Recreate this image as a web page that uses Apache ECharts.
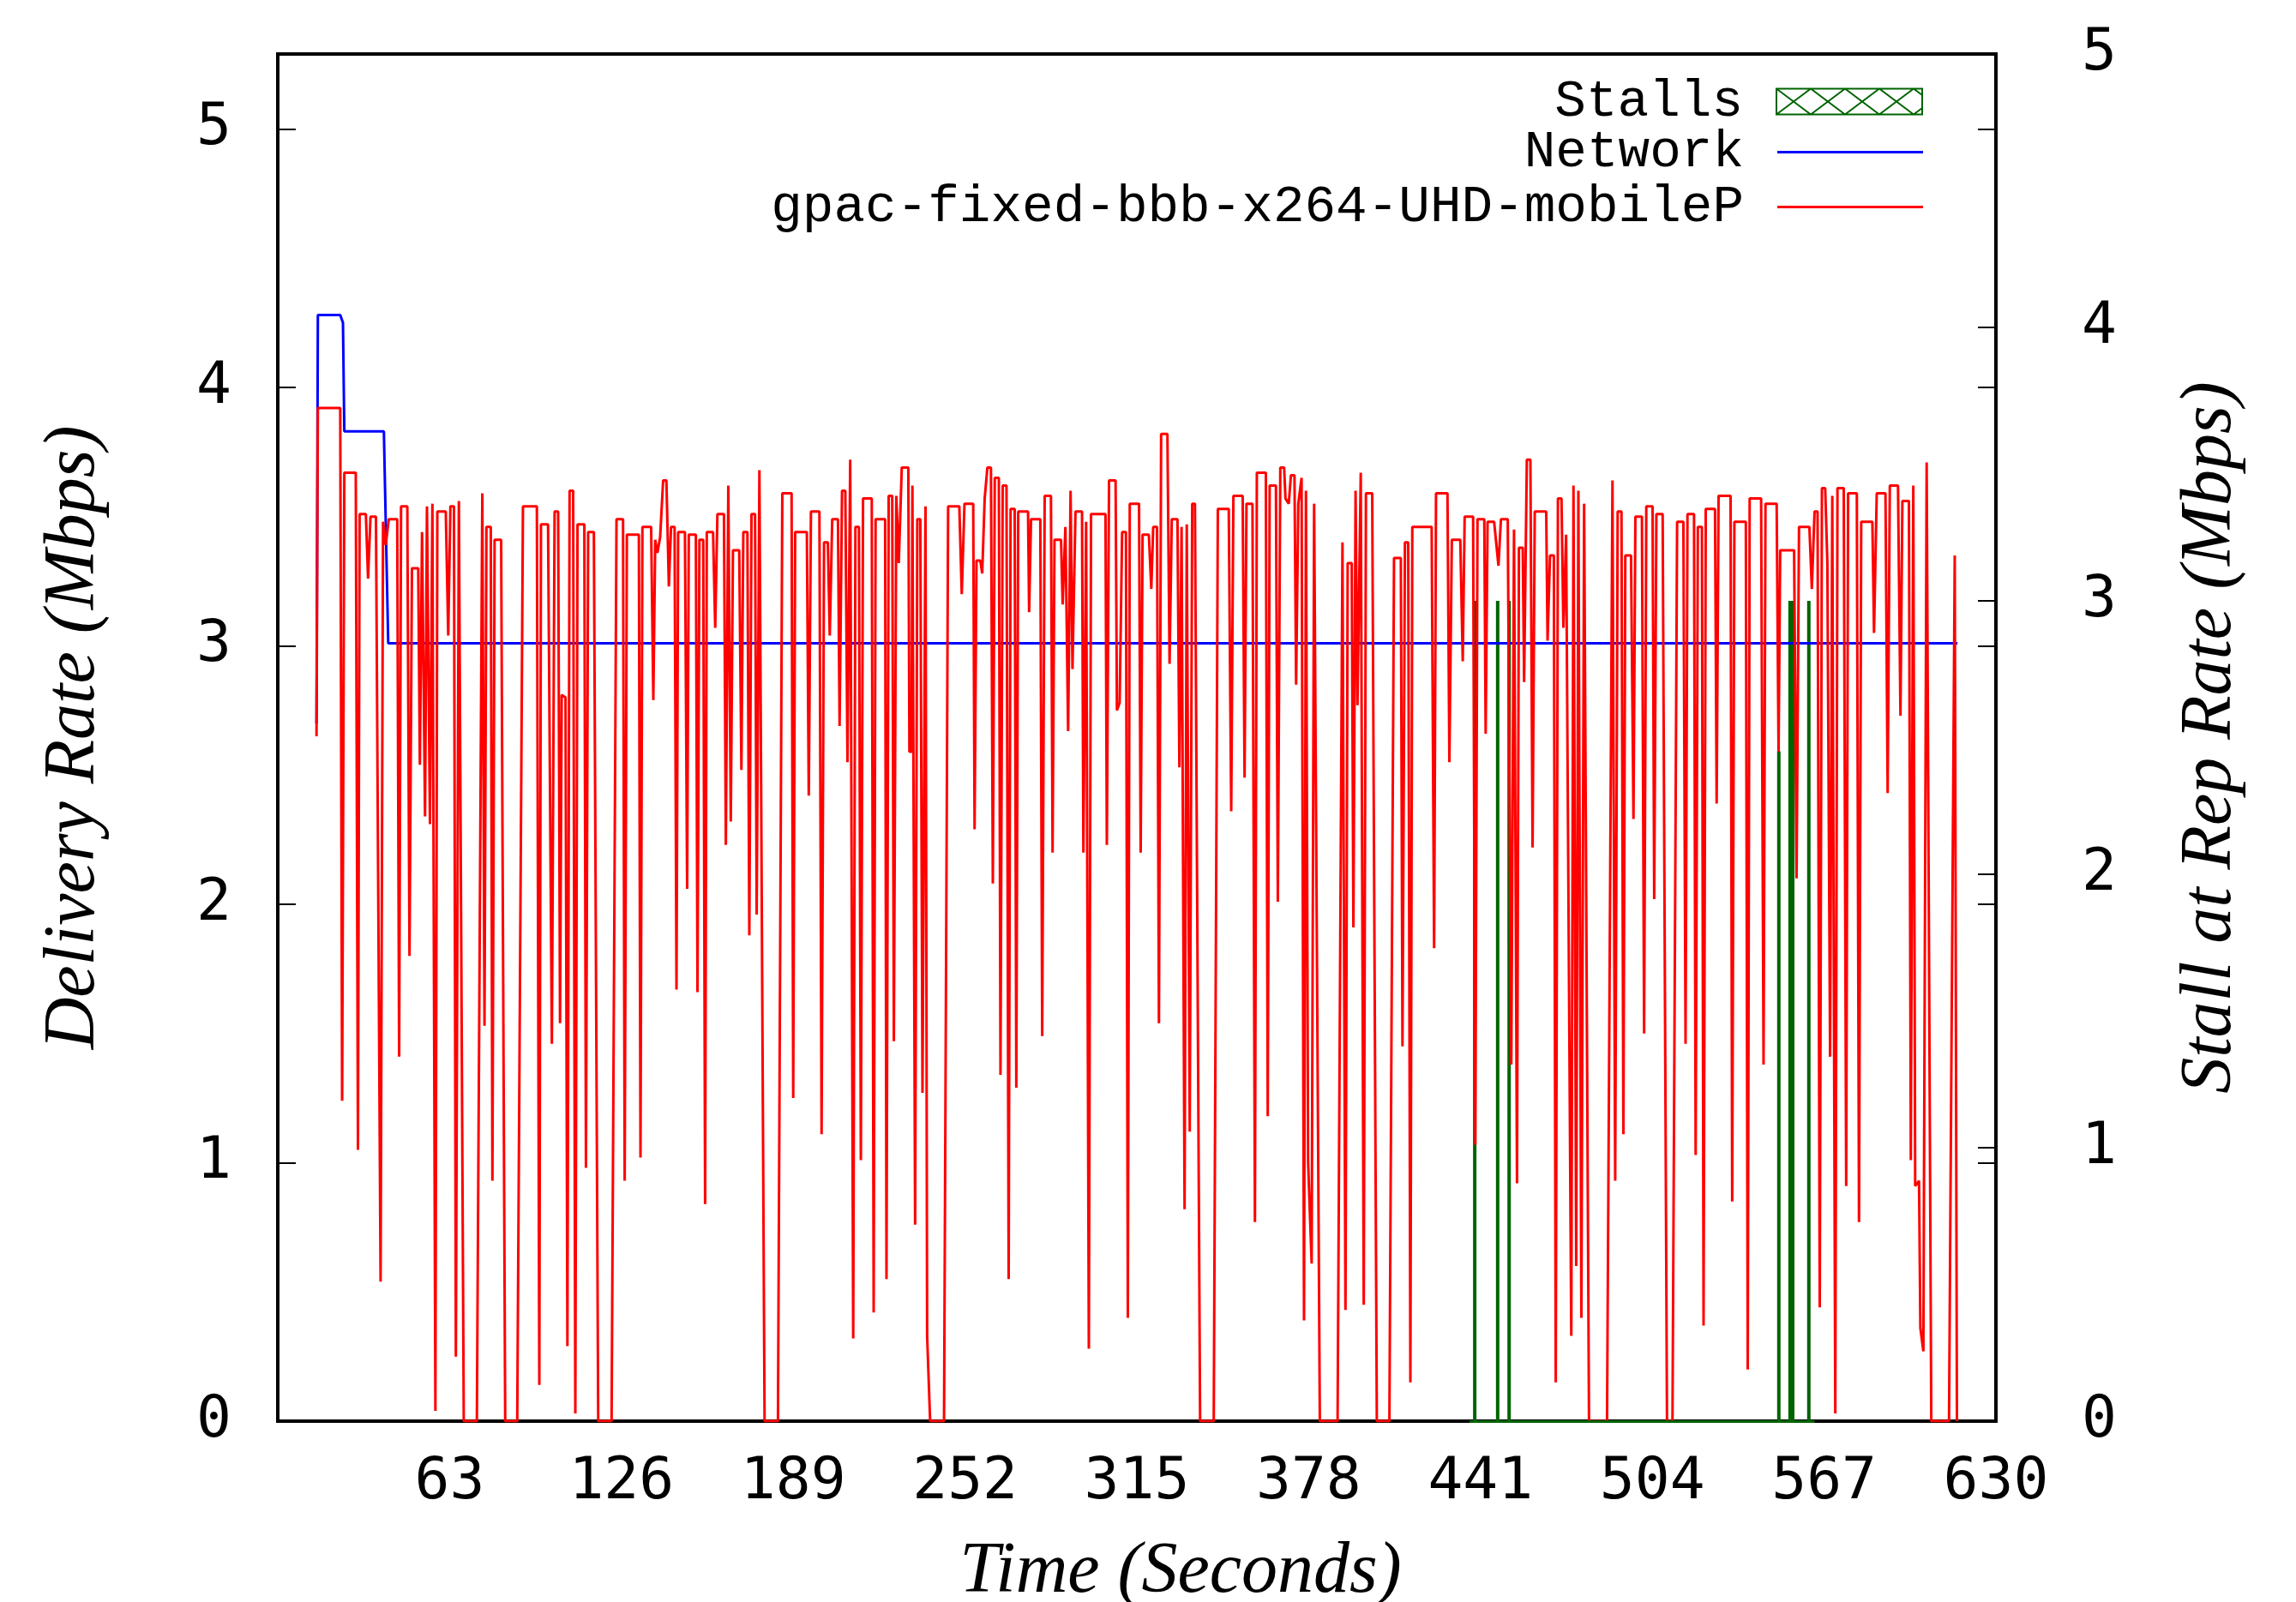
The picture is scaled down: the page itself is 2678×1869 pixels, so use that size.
<!DOCTYPE html>
<html>
<head>
<meta charset="utf-8">
<title>Delivery Rate</title>
<script src="https://cdn.jsdelivr.net/npm/echarts@6/dist/echarts.min.js"></script>
<style>
  html, body { margin: 0; padding: 0; background: #fff; }
  #chart { width: 2678px; height: 1869px; }
</style>
</head>
<body>
<div id="chart"></div>
<script>
// delivery rate of the player, [seconds, Mbps]
var deliveryRate = [
  [14.2, 2.65], [14.7, 3.92], [22.9, 3.92], [23.6, 1.24], [24.4, 3.67], [28.6, 3.67], [29.4, 1.05], [30.0, 3.51],
  [32.3, 3.51], [33.1, 3.26], [34.0, 3.50], [36.0, 3.50], [37.7, 0.54], [38.6, 3.48], [39.6, 3.39], [40.7, 3.49],
  [43.8, 3.49], [44.5, 1.41], [45.2, 3.54], [47.5, 3.54], [48.3, 1.80], [49.2, 3.30], [51.5, 3.30], [52.1, 2.54],
  [52.9, 3.44], [54.0, 2.34], [54.7, 3.54], [55.8, 2.31], [56.7, 3.55], [57.8, 0.04], [58.5, 3.52], [61.6, 3.52],
  [62.5, 3.04], [63.3, 3.54], [64.6, 3.54], [65.3, 0.25], [66.4, 3.56], [68.2, 0], [73.0, 0], [75.0, 3.59],
  [75.8, 1.53], [76.5, 3.46], [78.1, 3.46], [78.7, 0.93], [79.5, 3.41], [81.9, 3.41], [83.4, 0], [87.8, 0],
  [89.9, 3.54], [95.0, 3.54], [95.9, 0.14], [96.5, 3.47], [99.1, 3.47], [100.5, 1.46], [101.5, 3.52], [102.8, 3.52],
  [103.5, 1.54], [104.1, 2.81], [105.5, 2.80], [106.2, 0.29], [107.0, 3.60], [108.3, 3.60], [109.1, 0.03], [109.9, 3.47],
  [112.4, 3.47], [113.0, 0.98], [113.8, 3.44], [115.9, 3.44], [117.5, 0], [122.4, 0], [124.2, 3.49], [126.6, 3.49],
  [127.2, 0.93], [128.0, 3.43], [132.4, 3.43], [133.0, 1.02], [133.7, 3.46], [136.9, 3.46], [137.7, 2.79], [138.4, 3.41],
  [139.2, 3.36], [140.2, 3.42], [141.3, 3.64], [142.5, 3.64], [143.4, 3.23], [144.2, 3.46], [145.5, 3.46], [146.2, 1.67],
  [146.8, 3.44], [149.3, 3.44], [150.1, 2.06], [150.7, 3.43], [153.3, 3.43], [153.9, 1.66], [154.6, 3.41], [156.0, 3.41],
  [156.7, 0.84], [157.3, 3.44], [159.6, 3.44], [160.4, 3.07], [161.2, 3.51], [163.6, 3.51], [164.3, 2.23], [165.2, 3.62],
  [166.1, 2.32], [166.9, 3.37], [169.2, 3.37], [170.0, 2.52], [170.7, 3.44], [172.2, 3.44], [172.9, 1.88], [173.7, 3.51],
  [175.0, 3.51], [175.6, 1.96], [176.6, 3.68], [178.5, 0], [183.4, 0], [185.0, 3.59], [188.4, 3.59], [189.0, 1.25],
  [189.7, 3.44], [194.0, 3.44], [194.7, 2.42], [195.5, 3.52], [198.6, 3.52], [199.4, 1.11], [200.3, 3.40], [201.7, 3.40],
  [202.4, 3.04], [203.3, 3.49], [205.4, 3.49], [206.0, 2.69], [206.9, 3.60], [208.1, 3.60], [208.9, 2.55], [209.9, 3.72],
  [211.0, 0.32], [211.8, 3.46], [213.1, 3.46], [213.8, 1.01], [214.6, 3.57], [217.8, 3.57], [218.5, 0.42], [219.2, 3.49],
  [222.7, 3.49], [223.2, 0.55], [224.0, 3.58], [225.3, 3.58], [225.9, 1.47], [226.8, 3.58], [227.7, 3.32], [228.8, 3.69],
  [231.2, 3.69], [231.6, 2.59], [232.4, 2.59], [232.7, 3.62], [233.7, 0.76], [234.5, 3.49], [235.6, 3.49], [236.4, 1.27],
  [237.5, 3.54], [238.1, 0.33], [239.2, 0], [244.3, 0], [245.8, 3.54], [249.9, 3.54], [250.8, 3.20], [251.8, 3.55],
  [255.0, 3.55], [255.5, 2.29], [256.2, 3.33], [257.6, 3.33], [258.3, 3.28], [259.2, 3.57], [260.2, 3.69], [261.5, 3.69],
  [262.2, 2.08], [262.9, 3.65], [264.4, 3.65], [265.0, 1.34], [265.8, 3.62], [267.2, 3.62], [268.0, 0.55], [268.7, 3.53],
  [270.2, 3.53], [270.8, 1.29], [271.5, 3.52], [275.1, 3.52], [275.5, 3.13], [276.2, 3.49], [279.6, 3.49], [280.3, 1.49],
  [281.2, 3.58], [283.5, 3.58], [284.1, 2.20], [284.8, 3.41], [287.2, 3.41], [287.8, 3.16], [288.8, 3.46], [289.8, 2.67],
  [290.7, 3.60], [291.4, 2.91], [292.5, 3.52], [294.9, 3.52], [295.4, 2.20], [296.4, 3.48], [297.4, 0.28], [298.2, 3.51],
  [303.5, 3.51], [304.0, 2.23], [304.8, 3.64], [307.2, 3.64], [307.7, 2.75], [308.7, 2.78], [309.6, 3.44], [311.0, 3.44],
  [311.7, 0.40], [312.4, 3.55], [315.8, 3.55], [316.4, 2.20], [317.1, 3.43], [319.4, 3.43], [320.3, 3.22], [321.0, 3.46],
  [322.4, 3.46], [323.1, 1.54], [323.9, 3.82], [326.2, 3.82], [327.0, 2.93], [327.8, 3.49], [329.9, 3.49], [330.6, 2.53],
  [331.4, 3.46], [332.5, 0.82], [333.3, 3.47], [334.4, 1.12], [335.3, 3.55], [336.3, 3.55], [338.2, 0], [343.2, 0],
  [344.7, 3.53], [348.7, 3.53], [349.6, 2.36], [350.4, 3.58], [353.8, 3.58], [354.5, 2.49], [355.2, 3.55], [357.4, 3.55],
  [358.3, 0.77], [359.0, 3.67], [362.3, 3.67], [363.0, 1.18], [363.7, 3.62], [366.0, 3.62], [366.7, 2.01], [367.6, 3.69],
  [369.0, 3.69], [369.5, 3.57], [370.7, 3.55], [371.5, 3.66], [372.8, 3.66], [373.4, 2.85], [374.2, 3.55], [375.4, 3.65],
  [376.3, 0.39], [377.0, 3.60], [377.8, 1.00], [379.1, 0.61], [380.0, 3.55], [382.1, 0], [388.6, 0], [390.4, 3.40],
  [391.5, 0.43], [392.3, 3.32], [393.8, 3.32], [394.4, 1.91], [395.2, 3.60], [395.9, 2.77], [397.1, 3.67], [398.2, 0.45],
  [399.0, 3.59], [401.3, 3.59], [403.0, 0], [407.6, 0], [409.3, 3.34], [411.8, 3.34], [412.4, 1.45], [413.3, 3.40],
  [414.5, 3.40], [415.3, 0.15], [416.0, 3.46], [423.1, 3.46], [424.0, 1.83], [424.7, 3.59], [428.9, 3.59], [429.6, 2.55],
  [430.5, 3.41], [433.6, 3.41], [434.5, 2.94], [435.2, 3.50], [438.3, 3.50], [439.1, 1.07], [439.9, 3.49], [442.4, 3.49],
  [442.9, 2.66], [443.6, 3.48], [446.0, 3.48], [447.6, 3.31], [448.5, 3.49], [451.0, 3.49], [452.3, 1.38], [453.3, 3.45],
  [454.4, 0.92], [455.1, 3.38], [456.5, 3.38], [457.0, 2.86], [458.0, 3.72], [459.3, 3.72], [460.1, 2.22], [460.9, 3.52],
  [465.1, 3.52], [465.6, 3.02], [466.5, 3.35], [467.9, 3.35], [468.6, 0.15], [469.4, 3.57], [470.7, 3.57], [471.4, 3.07],
  [472.4, 3.43], [474.3, 0.33], [475.1, 3.62], [476.1, 0.60], [476.9, 3.60], [478.0, 0.40], [479.0, 3.55], [480.8, 0],
  [487.4, 0], [489.4, 3.64], [490.4, 0.93], [491.3, 3.52], [492.7, 3.52], [493.4, 1.11], [494.1, 3.35], [496.2, 3.35],
  [497.1, 2.33], [497.8, 3.50], [500.2, 3.50], [501.0, 1.50], [501.8, 3.54], [504.1, 3.54], [504.7, 2.02], [505.5, 3.51],
  [507.8, 3.51], [509.4, 0], [511.4, 0], [513.1, 3.48], [515.4, 3.48], [516.2, 1.46], [516.9, 3.51], [519.3, 3.51],
  [519.9, 1.03], [520.7, 3.46], [522.2, 3.46], [522.8, 0.37], [523.6, 3.53], [527.0, 3.53], [527.6, 2.39], [528.3, 3.58],
  [532.7, 3.58], [533.3, 0.85], [534.1, 3.48], [538.3, 3.48], [539.0, 0.20], [539.7, 3.57], [543.9, 3.57], [544.8, 1.38],
  [545.5, 3.55], [549.6, 3.55], [550.3, 2.59], [550.9, 3.37], [556.0, 3.37], [556.9, 2.10], [557.8, 3.46], [561.6, 3.46],
  [562.5, 3.22], [563.5, 3.52], [564.6, 3.52], [565.4, 0.44], [566.2, 3.61], [567.4, 3.61], [568.2, 3.32], [569.2, 1.41],
  [570.0, 3.58], [571.1, 0.03], [571.9, 3.61], [574.2, 3.61], [575.1, 0.91], [575.8, 3.59], [579.0, 3.59], [579.8, 0.77],
  [580.6, 3.48], [584.7, 3.48], [585.3, 3.05], [586.3, 3.59], [589.5, 3.59], [590.3, 2.43], [591.1, 3.62], [594.1, 3.62],
  [595.0, 2.73], [595.7, 3.56], [598.1, 3.56], [598.8, 1.01], [599.7, 3.62], [600.4, 0.91], [601.8, 0.93], [602.3, 0.36],
  [603.4, 0.27], [604.6, 3.71], [606.3, 0], [612.8, 0], [614.9, 3.35], [615.7, 0]
]

// network capacity, [seconds, Mbps]
var networkRate = [
  [14.2, 2.70], [14.7, 4.28], [22.9, 4.28], [23.9, 4.25], [24.4, 3.83], [38.9, 3.83], [40.5, 3.01], [615.9, 3.01]
]

// stalls (right axis)
var stallTimes = [438.9, 447.3, 451.5, 550.4, 554.5, 555.5, 561.4]
var stallRates = [3.0, 3.0, 3.0, 2.45, 3.0, 3.0, 3.0]
var stallWindow = [437, 563.5]

var xMax = 630
var xStep = 63
var leftMax = 5.29
var rightMax = 5

var seriesName = 'gpac-fixed-bbb-x264-UHD-mobileP'
var tickFont = 'DejaVu Sans Mono'
var titleFont = 'Liberation Serif'
var legendFont = 'Liberation Mono'

// legend keys: hatched box for stalls, plain line for the two rates
var stallIcon = 'path://M0 0H170V30H0Z M0 0L40 30L80 0L120 30L160 0L170 7.5 M0 30L40 0L80 30L120 0L160 30L170 22.5'
var lineIcon = 'path://M0 0H170V3H0Z'

var chart = echarts.init(document.getElementById('chart'), null, { renderer: 'canvas' })

function legendBox (name, top, extra) {
  var item = { name: name }
  for (var k in extra) item[k] = extra[k]
  return {
    data: [item],
    right: 435,
    top: top,
    orient: 'horizontal',
    align: 'right',
    padding: 0,
    itemGap: 0,
    itemWidth: 170,
    itemHeight: 30,
    symbolKeepAspect: true,
    selectedMode: false,
    textStyle: {
      fontFamily: legendFont,
      fontSize: 61,
      lineHeight: 60,
      color: '#000',
      padding: [0, 34, 0, 0]
    }
  }
}

var yTickStyle = {
  show: true,
  inside: true,
  length: 21,
  lineStyle: { color: '#000', width: 2 }
}

var option = {
  animation: false,
  backgroundColor: '#fff',
  grid: {
    left: 324,
    right: 350,
    top: 63,
    bottom: 211,
    show: true,
    borderColor: '#000',
    borderWidth: 4,
    backgroundColor: 'transparent',
    containLabel: false,
    outerBoundsMode: 'none'
  },
  legend: [
    legendBox('Stalls', 88, {
      icon: stallIcon,
      itemStyle: { color: '#fff', borderColor: '#006400', borderWidth: 2 }
    }),
    legendBox('Network', 147, {
      icon: lineIcon,
      itemStyle: { color: '#0000ff', borderWidth: 0 }
    }),
    legendBox(seriesName, 211, {
      icon: lineIcon,
      itemStyle: { color: '#ff0000', borderWidth: 0 }
    })
  ],
  xAxis: {
    type: 'value',
    min: 0,
    max: xMax,
    interval: xStep,
    axisLine: { show: false },
    axisTick: { show: false },
    splitLine: { show: false },
    axisLabel: {
      showMinLabel: false,
      margin: 38,
      fontFamily: tickFont,
      fontSize: 68,
      color: '#000'
    },
    name: 'Time (Seconds)',
    nameLocation: 'middle',
    nameGap: 135,
    nameTextStyle: {
      fontFamily: titleFont,
      fontStyle: 'italic',
      fontSize: 84,
      color: '#000',
      padding: [0, 0, 0, 102]
    }
  },
  yAxis: [
    {
      type: 'value',
      position: 'left',
      min: 0,
      max: leftMax,
      interval: 1,
      axisLine: { show: false },
      axisTick: yTickStyle,
      splitLine: { show: false },
      axisLabel: {
        showMaxLabel: false,
        margin: 54,
        fontFamily: tickFont,
        fontSize: 68,
        color: '#000'
      },
      name: 'Delivery Rate (Mbps)',
      nameLocation: 'middle',
      nameRotate: 90,
      nameGap: 195,
      nameTextStyle: {
        fontFamily: titleFont,
        fontStyle: 'italic',
        fontSize: 84,
        color: '#000'
      }
    },
    {
      type: 'value',
      position: 'right',
      min: 0,
      max: rightMax,
      interval: 1,
      alignTicks: false,
      axisLine: { show: false },
      axisTick: yTickStyle,
      splitLine: { show: false },
      axisLabel: {
        margin: 100,
        fontFamily: tickFont,
        fontSize: 68,
        color: '#000'
      },
      name: 'Stall at Rep Rate (Mbps)',
      nameLocation: 'middle',
      nameRotate: 90,
      nameGap: 209,
      nameTextStyle: {
        fontFamily: titleFont,
        fontStyle: 'italic',
        fontSize: 84,
        color: '#000'
      }
    },
    {
      // mirror of the left ticks on the right border
      type: 'value',
      position: 'right',
      min: 0,
      max: leftMax,
      interval: 1,
      alignTicks: false,
      axisLine: { show: false },
      axisTick: yTickStyle,
      splitLine: { show: false },
      axisLabel: { show: false }
    }
  ],
  series: [
    {
      name: 'Stalls',
      type: 'bar',
      yAxisIndex: 1,
      barWidth: 4,
      itemStyle: { color: '#006400' },
      data: stallTimes.map(function (t, i) { return [t, stallRates[i]] }),
      markLine: {
        silent: true,
        symbol: 'none',
        label: { show: false },
        lineStyle: { color: '#006400', width: 3, type: 'solid' },
        data: [[{ coord: [stallWindow[0], 0] }, { coord: [stallWindow[1], 0] }]]
      },
      z: 1
    },
    {
      name: 'Network',
      type: 'line',
      yAxisIndex: 0,
      symbol: 'none',
      data: networkRate,
      lineStyle: { color: '#0000ff', width: 3 },
      itemStyle: { color: '#0000ff' },
      z: 2
    },
    {
      name: seriesName,
      type: 'line',
      yAxisIndex: 0,
      symbol: 'none',
      data: deliveryRate,
      lineStyle: { color: '#ff0000', width: 3 },
      itemStyle: { color: '#ff0000' },
      z: 3
    }
  ]
}

chart.setOption(option)
</script>
</body>
</html>
